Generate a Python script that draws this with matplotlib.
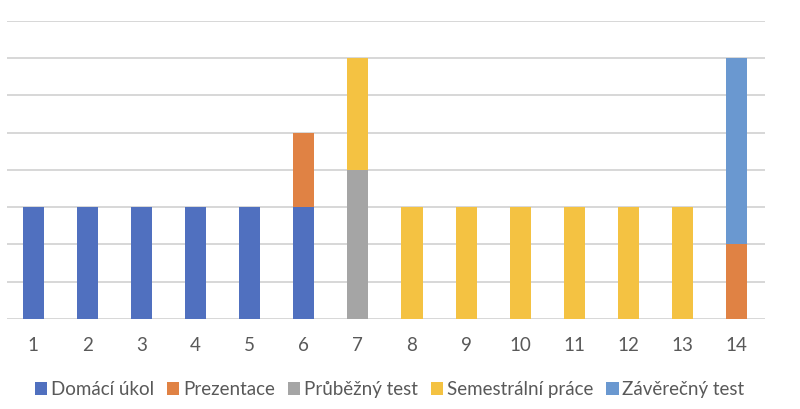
import numpy as np
import matplotlib
matplotlib.use("Agg")
import matplotlib.pyplot as plt

plt.rcParams['font.family'] = ['Lato', 'DejaVu Sans']

# tydny semestru
weeks = [str(i) for i in range(1, 15)]

# body za jednotlive typy hodnoceni
domaci_ukol = [3, 3, 3, 3, 3, 3, 0, 0, 0, 0, 0, 0, 0, 0]
prezentace = [0, 0, 0, 0, 0, 2, 0, 0, 0, 0, 0, 0, 0, 2]
prubezny_test = [0, 0, 0, 0, 0, 0, 4, 0, 0, 0, 0, 0, 0, 0]
semestralni_prace = [0, 0, 0, 0, 0, 0, 3, 3, 3, 3, 3, 3, 3, 0]
zaverecny_test = [0, 0, 0, 0, 0, 0, 0, 0, 0, 0, 0, 0, 0, 5]

series = [
    ("Domácí úkol", domaci_ukol, "#5070BF"),
    ("Prezentace", prezentace, "#E08244"),
    ("Průběžný test", prubezny_test, "#A5A5A5"),
    ("Semestrální práce", semestralni_prace, "#F4C242"),
    ("Závěrečný test", zaverecny_test, "#6A98D0"),
]

fig = plt.figure(figsize=(8, 4.09), dpi=100)
ax = fig.add_axes([0.009, 0.22, 0.947, 0.729])

x = np.arange(1, len(weeks) + 1)
bottom = np.zeros(len(weeks))
for name, vals, col in series:
    vals = np.array(vals, dtype=float)
    ax.bar(x, vals, bottom=bottom, width=0.39, color=col, label=name, zorder=3)
    bottom += vals

ax.set_xlim(0.52, 14.52)
ax.set_ylim(0, 8)
ax.set_yticks(range(0, 9))
ax.yaxis.grid(True, color="#D4D4D4", linewidth=1.3, zorder=0)
ax.tick_params(axis="y", left=False, labelleft=False)
ax.tick_params(axis="x", length=0, pad=13, labelsize=13.5, labelcolor="#595959")
ax.set_xticks(x)
ax.set_xticklabels(weeks)
for s in ax.spines.values():
    s.set_visible(False)

fig.legend(loc="center", bbox_to_anchor=(0.487, 0.048), ncol=5, frameon=False,
           fontsize=13.5, handlelength=0.65, handleheight=0.65, handletextpad=0.2,
           columnspacing=0.7, labelcolor="#595959")

plt.savefig("out.png", dpi=100)
